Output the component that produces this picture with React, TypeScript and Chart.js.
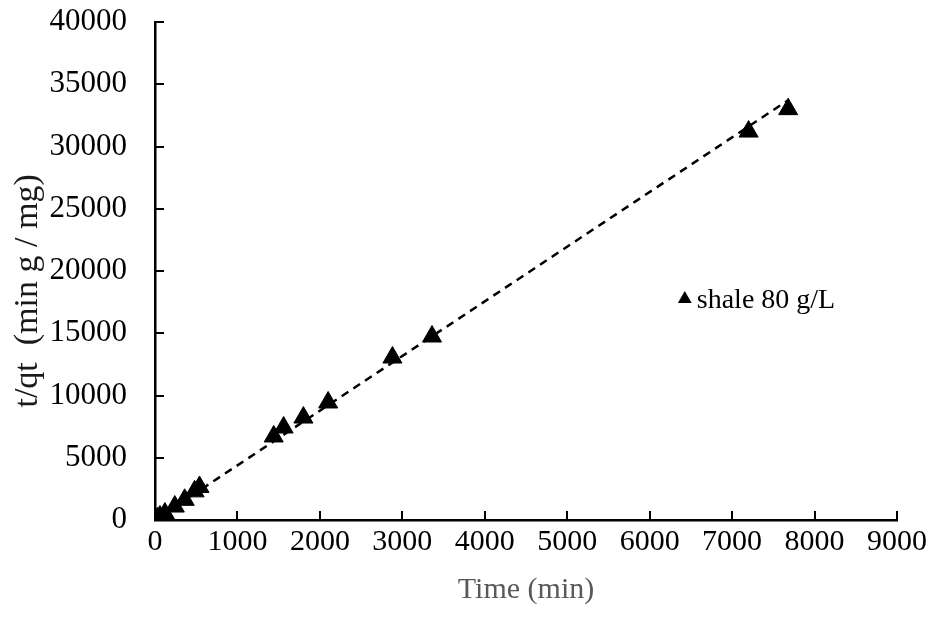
import React, { useEffect, useRef } from "react";
import { Chart, registerables } from "chart.js";

Chart.register(...registerables);

const timeMin = [0, 15, 30, 60, 120, 240, 360, 480, 540, 1440, 1560, 1800, 2100, 2880, 3360, 7200, 7680];
const tOverQt = [0, 70, 140, 280, 520, 1080, 1620, 2300, 2650, 6710, 7430, 8230, 9440, 13050, 14740, 31200, 33000];
const trendX = [0, 7680];
const trendY = [0, 33720];
const seriesLabel = "shale 80 g/L";
const xTitle = "Time (min)";
const yTitle = "t/qt  (min g / mg)";
const xMax = 9000;
const xStep = 1000;
const yMax = 40000;
const yStep = 5000;

const FONT = "'Liberation Serif', 'Times New Roman', serif";

const insideTicks = {
  id: "insideTicks",
  afterDraw(chart: any) {
    const ctx = chart.ctx;
    const xs = chart.scales.x;
    const ys = chart.scales.y;
    const area = chart.chartArea;
    ctx.save();
    ctx.strokeStyle = "#000";
    ctx.lineWidth = 2;
    const len = 9;
    ys.ticks.forEach((t: any) => {
      const py = Math.round(ys.getPixelForValue(t.value));
      ctx.beginPath();
      ctx.moveTo(area.left, py);
      ctx.lineTo(area.left + len, py);
      ctx.stroke();
    });
    xs.ticks.forEach((t: any) => {
      const px = Math.round(xs.getPixelForValue(t.value));
      ctx.beginPath();
      ctx.moveTo(px, area.bottom);
      ctx.lineTo(px, area.bottom - len);
      ctx.stroke();
    });
    // y axis title
    ctx.save();
    ctx.translate(28, area.top + (area.bottom - area.top) * 0.54);
    ctx.rotate(-Math.PI / 2);
    ctx.fillStyle = "#1a1a1a";
    ctx.font = `34px ${FONT}`;
    ctx.textAlign = "center";
    ctx.textBaseline = "middle";
    ctx.fillText(yTitle, 0, 0);
    ctx.restore();
    // legend inside plot area
    const lx = area.left + (area.right - area.left) * 0.714;
    const ly = area.top + (area.bottom - area.top) * 0.556;
    const r = 8;
    ctx.fillStyle = "#000";
    ctx.beginPath();
    ctx.moveTo(lx, ly - r);
    ctx.lineTo(lx + r * 0.866, ly + r * 0.5);
    ctx.lineTo(lx - r * 0.866, ly + r * 0.5);
    ctx.closePath();
    ctx.fill();
    ctx.font = `28px ${FONT}`;
    ctx.textBaseline = "alphabetic";
    ctx.textAlign = "left";
    ctx.fillText(seriesLabel, lx + 12, ly + 9);
    ctx.restore();
  },
};

export default function App() {
  const ref = useRef<HTMLCanvasElement | null>(null);
  useEffect(() => {
    if (!ref.current) return;
    const points = timeMin.map((t, i) => ({ x: t, y: tOverQt[i] }));
    const trend = trendX.map((t, i) => ({ x: t, y: trendY[i] }));
    const chart = new Chart(ref.current, {
      type: "scatter",
      data: {
        datasets: [
          {
            label: "trend",
            data: trend,
            showLine: true,
            borderColor: "#000",
            borderWidth: 2.5,
            borderDash: [8, 6],
            pointRadius: 0,
            fill: false,
          } as any,
          {
            label: seriesLabel,
            data: points,
            pointStyle: "triangle",
            pointRadius: 11,
            backgroundColor: "#000",
            borderColor: "#000",
            borderWidth: 1,
          },
        ],
      },
      options: {
        animation: false,
        responsive: false,
        devicePixelRatio: 1,
        layout: { padding: { top: 22, right: 37, left: 0, bottom: 0 } },
        plugins: { legend: { display: false }, tooltip: { enabled: false } },
        scales: {
          x: {
            type: "linear",
            min: 0,
            max: xMax,
            grid: { display: false, drawTicks: false },
            border: { display: true, color: "#000", width: 2.5 },
            ticks: {
              stepSize: xStep,
              padding: 4,
              color: "#000",
              font: { family: FONT, size: 30 },
              maxRotation: 0,
              callback: (v: any) => String(v),
            },
            title: {
              display: true,
              text: xTitle,
              color: "#595959",
              font: { family: FONT, size: 30 },
              padding: { top: 18, bottom: 18 },
            },
            afterFit: (s: any) => {
              s.height = 106;
              s.paddingLeft = 0;
              s.paddingRight = 0;
            },
          },
          y: {
            type: "linear",
            min: 0,
            max: yMax,
            grid: { display: false, drawTicks: false },
            border: { display: true, color: "#000", width: 2.5 },
            ticks: {
              stepSize: yStep,
              padding: 28,
              color: "#000",
              font: { family: FONT, size: 31 },
              callback: (v: any) => String(v),
            },
            title: { display: false, text: yTitle },
            afterFit: (s: any) => {
              s.width = 155;
              s.paddingTop = 0;
              s.paddingBottom = 0;
            },
          },
        },
      },
      plugins: [insideTicks],
    });
    return () => chart.destroy();
  }, []);
  return (
    <div style={{ position: "fixed", left: 0, top: 0, width: 934, height: 626, background: "#fff" }}>
      <canvas ref={ref} width={934} height={626} style={{ width: 934, height: 626 }} />
    </div>
  );
}
